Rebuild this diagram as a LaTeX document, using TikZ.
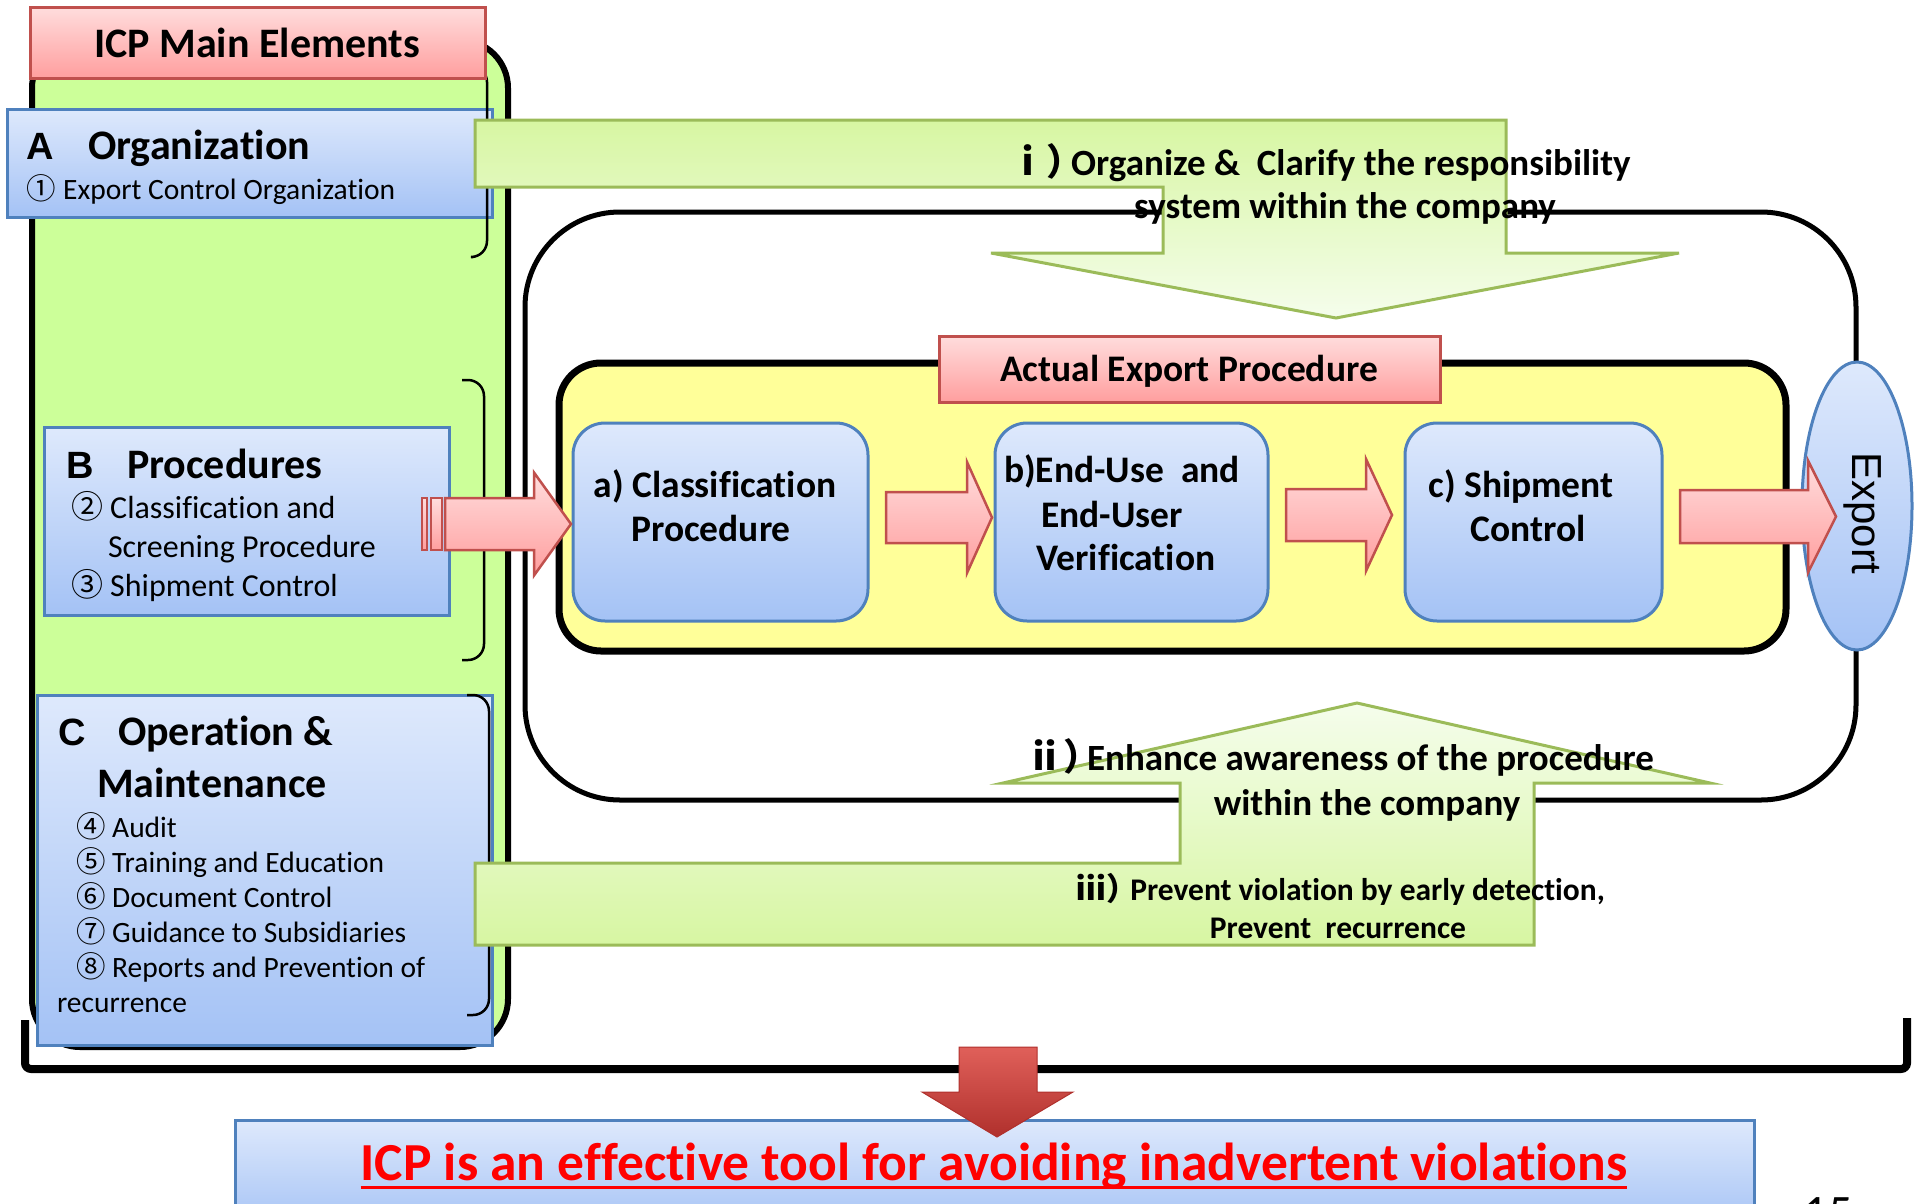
\documentclass[tikz,border=0pt]{standalone}
\usepackage{fontspec}
\setmainfont{Carlito}[Ligatures=NoCommon]
\newfontfamily\cjkfont{Noto Sans CJK JP}
\newfontfamily\arialfont{Liberation Sans}
\usetikzlibrary{shapes.geometric}

\newcommand\fsz[2]{\fontsize{#1}{#2}\selectfont}
\newcommand\cnum[1]{{\cjkfont #1}}
% small roman numeral with a full-width parenthesis, tightened after the parenthesis
\newcommand\rnum[2]{{\cjkfont #1）}\kern-#2em}

\definecolor{panelgreen}{HTML}{CCFF99}
\definecolor{boxblueT}{HTML}{DEE9FC}
\definecolor{boxblueB}{HTML}{A4C2F5}
\definecolor{boxedge}{HTML}{4F81BD}
\definecolor{pinkT}{HTML}{FFDDDD}
\definecolor{pinkB}{HTML}{FF9E9E}
\definecolor{rededge}{HTML}{C0504D}
\definecolor{leafD}{HTML}{D7F6A2}
\definecolor{leafL}{HTML}{F5FDEC}
\definecolor{leafedge}{HTML}{9BBB59}
\definecolor{procyellow}{HTML}{FFFF99}
\definecolor{arrowT}{HTML}{E0605A}
\definecolor{arrowB}{HTML}{B0302C}

\tikzset{
  boxnw/.style={inner sep=0, outer sep=0, anchor=north west},
  panel/.style={draw=black, line width=6, fill=panelgreen, rounded corners=48},
  bluebox/.style={draw=boxedge, line width=3, top color=boxblueT, bottom color=boxblueB},
  pinkbox/.style={draw=rededge, line width=3, top color=pinkT, bottom color=pinkB},
  leafdown/.style={draw=leafedge, line width=3, top color=leafD, bottom color=leafL},
  leafup/.style={draw=leafedge, line width=3, top color=leafL, bottom color=leafD},
  frameline/.style={draw=black, line width=5, fill=white, rounded corners=95},
  procframe/.style={draw=black, line width=7, fill=procyellow, rounded corners=42},
  bracket/.style={draw=black, line width=2.5, rounded corners=16},
  txt/.style={inner sep=0, outer sep=0, anchor=base west},
  ctxt/.style={inner sep=0, outer sep=0, anchor=base},
  headfont/.style={font=\bfseries\fsz{42}{50}},
  letterfont/.style={font=\arialfont\bfseries\fsz{38}{46}},
  procfont/.style={font=\bfseries\fsz{37.5}{45}},
  notefont/.style={font=\bfseries\fsz{37}{44}},
  smallnote/.style={font=\bfseries\fsz{31.5}{38}},
}

% block arrow: start x, head x, tip x, middle y, half body, half head
\newcommand\blockarrow[6]{%
  \path[pinkbox, line width=2.5] (#1,#4-#5) -- (#2,#4-#5) -- (#2,#4-#6) -- (#3,#4)
    -- (#2,#4+#6) -- (#2,#4+#5) -- (#1,#4+#5) -- cycle;}

\begin{document}
\begin{tikzpicture}[x=1pt,y=-1pt]
\useasboundingbox (0,0) rectangle (1915,1203);

% ---------- left panel: ICP main elements ----------
\node[boxnw, panel, minimum width=476, minimum height=1007] (panel) at (32,40) {};

\node[boxnw, bluebox, minimum width=485, minimum height=108] (orgbox) at (7,109) {};
\node[boxnw, bluebox, minimum width=405, minimum height=188] (procbox) at (44,427) {};
\node[boxnw, bluebox, minimum width=455, minimum height=350] (opbox) at (37,695) {};

\path[bracket] (472,66) -- (487,66) -- (487,257) -- (473,257);
\path[bracket] (462,380) -- (484,380) -- (484,660) -- (462,660);
\path[bracket] (467,695) -- (489,695) -- (489,1015) -- (467,1015);

\node[boxnw, pinkbox, minimum width=455, minimum height=71] (titlebox) at (30,7) {};
\node[ctxt, headfont] (titletxt) at (257,57) {ICP Main Elements};

% A
\node[txt, letterfont] (aletter) at (27,159) {A};
\node[txt, headfont] (ahead) at (88,159) {Organization};
\node[txt, font=\fsz{29.5}{35}] (aitem) at (27,199) {\cnum{①} Export Control Organization};

% B
\node[txt, letterfont] (bletter) at (66,478) {B};
\node[txt, headfont] (bhead) at (127,478) {Procedures};
\node[txt, font=\fsz{32}{38}] (bitem1) at (71,518) {\cnum{②} Classification and};
\node[txt, font=\fsz{32}{38}] (bitem1b) at (108,557) {Screening Procedure};
\node[txt, font=\fsz{32}{38}] (bitem2) at (71,596) {\cnum{③} Shipment Control};

% C
\node[txt, letterfont] (cletter) at (58,745) {C};
\node[txt, headfont] (chead) at (118,745) {Operation \&};
\node[txt, headfont] (chead2) at (97,797) {Maintenance};
\node[txt, font=\fsz{29.5}{36}] (citem4) at (76,837) {\cnum{④} Audit};
\node[txt, font=\fsz{29.5}{36}] (citem5) at (76,872) {\cnum{⑤} Training and Education};
\node[txt, font=\fsz{29.5}{36}] (citem6) at (76,907) {\cnum{⑥} Document Control};
\node[txt, font=\fsz{29.5}{36}] (citem7) at (76,942) {\cnum{⑦} Guidance to Subsidiaries};
\node[txt, font=\fsz{29.5}{36}] (citem8) at (76,977) {\cnum{⑧} Reports and Prevention of};
\node[txt, font=\fsz{29.5}{36}] (citem8b) at (57,1012) {recurrence};

% ---------- company frame and export procedure ----------
\node[boxnw, frameline, minimum width=1331, minimum height=588] (company) at (525,212) {};
\node[boxnw, procframe, minimum width=1227, minimum height=288] (procarea) at (559,363) {};
\node[boxnw, pinkbox, minimum width=501, minimum height=66] (actualbox) at (939,336) {};
\node[ctxt, procfont] (actualtxt) at (1189,381) {Actual Export Procedure};

\node[boxnw, bluebox, rounded corners=32, minimum width=295, minimum height=198] (stepa) at (573,423) {};
\node[boxnw, bluebox, rounded corners=32, minimum width=273, minimum height=198] (stepb) at (995,423) {};
\node[boxnw, bluebox, rounded corners=32, minimum width=257, minimum height=198] (stepc) at (1405,423) {};

\node[ctxt, procfont] (atxt1) at (715,497) {a) Classification};
\node[ctxt, procfont] (atxt2) at (711,541) {Procedure};
\node[ctxt, procfont] (btxt1) at (1122,482) {b)End-Use \ and};
\node[ctxt, procfont] (btxt2) at (1112,527) {End-User};
\node[ctxt, procfont] (btxt3) at (1126,570) {Verification};
\node[ctxt, procfont] (ctxt1) at (1521,497) {c) Shipment};
\node[ctxt, procfont] (ctxt2) at (1528,541) {Control};

% arrows of the procedure flow
\path[pinkbox, line width=2.5] (422,498) rectangle (427,550);
\path[pinkbox, line width=2.5] (431,498) rectangle (442,550);
\blockarrow{445}{534}{571}{524}{26}{51.5}
\blockarrow{886}{967}{992}{517.5}{25.5}{55.5}
\blockarrow{1286}{1366}{1392}{515}{26}{56}

\node[ellipse, draw=boxedge, line width=3, top color=boxblueT, bottom color=boxblueB,
      minimum width=110, minimum height=288, inner sep=0] (export) at (1857,506) {};
\blockarrow{1680}{1808}{1836}{516.5}{26.5}{56}
\node[inner sep=0, rotate=-90, font=\arialfont\fsz{42}{50}] (exporttxt) at (1863,513) {Export};

% ---------- green feedback arrows ----------
\path[leafdown] (475,120) -- (1506,120) -- (1506,253) -- (1679,253) -- (1336,318)
  -- (991,253) -- (1163,253) -- (1163,187) -- (475,187) -- cycle;
\node[ctxt, notefont] (note1a) at (1320,175) {\rnum{ⅰ}{0.33}Organize \& \ Clarify the responsibility};
\node[ctxt, notefont] (note1b) at (1345,218) {system within the company};

\path[leafup] (475,945) -- (1534,945) -- (1534,783) -- (1710,783) -- (1357,703)
  -- (1003,783) -- (1180,783) -- (1180,863) -- (475,863) -- cycle;
\node[ctxt, notefont] (note2a) at (1340,770) {\rnum{ⅱ}{0.35}Enhance awareness of the procedure};
\node[ctxt, notefont] (note2b) at (1367,815) {within the company};
\node[ctxt, smallnote] (note3a) at (1340,900) {\rnum{ⅲ}{0.25}Prevent violation by early detection,};
\node[ctxt, smallnote] (note3b) at (1338,938) {Prevent \ recurrence};

% ---------- conclusion ----------
\path[draw=black, line width=8, rounded corners=6] (25,1020) -- (25,1069) -- (1907,1069) -- (1907,1018);
\node[boxnw, bluebox, minimum width=1519, minimum height=110] (conclusion) at (235,1120) {};
\path[draw=arrowB, line width=1, top color=arrowT, bottom color=arrowB]
  (959,1047) -- (1037,1047) -- (1037,1092) -- (1073,1092) -- (997,1137) -- (922,1092) -- (959,1092) -- cycle;
\node[ctxt, font=\bfseries\fsz{53.5}{62}, text=red] (conctxt) at (994,1180)
  {ICP is an effective tool for avoiding inadvertent violations};
\draw[red, line width=3] ([yshift=-7pt]conctxt.base west) -- ([yshift=-7pt]conctxt.base east);

\node[ctxt, font=\fsz{48}{56}] (pagenum) at (1828,1228) {15};
\end{tikzpicture}
\end{document}
